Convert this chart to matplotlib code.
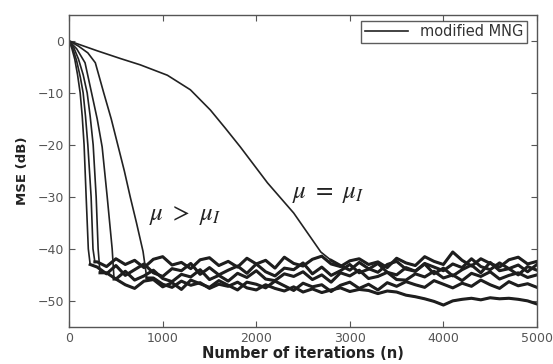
import numpy as np
import matplotlib.pyplot as plt

# transient parts (iteration, MSE in dB)
n_c1 = [0, 30, 60, 90, 118, 140, 160, 182, 205, 225]
db_c1 = [0, -1.5, -3.5, -6.5, -10, -14.5, -20, -30, -40, -43]
n_c2 = [0, 40, 80, 120, 150, 175, 200, 235, 255, 275]
db_c2 = [0, -1.5, -3.8, -7.0, -10, -14.5, -20, -30, -40, -42.5]
n_c3 = [0, 50, 100, 150, 193, 225, 257, 289, 310, 330]
db_c3 = [0, -1.3, -3.5, -6.5, -10, -14.5, -20, -30, -40, -44.6]
n_c4 = [0, 80, 170, 240, 300, 353, 407, 460, 480]
db_c4 = [0, -1.5, -4.2, -10, -15, -20.4, -30, -40, -45.8]
n_c5 = [0, 100, 200, 280, 370, 450, 520, 590, 653, 720, 790, 830]
db_c5 = [0, -1, -2.3, -4.2, -10, -15, -20, -25, -30, -35, -40.5, -45.6]
n_slow = [0, 300, 550, 760, 1050, 1296, 1510, 1670, 1830, 2120, 2400,
          2690, 2800]
db_slow = [0, -1.9, -3.4, -4.6, -6.6, -9.4, -13.3, -16.8, -20.4, -27.3, -33.1,
           -40.6, -42.2]

# steady-state parts, one value every 100 iterations up to n = 5000
fl_c1 = [-43.5, -44.8, -43.2, -45.1, -44.0, -42.9, -44.6, -45.3, -43.8, -44.2,
         -42.8, -44.9, -43.6, -45.0, -44.1, -43.3, -44.7, -42.9, -44.4, -45.2,
         -43.7, -44.0, -42.7, -44.8, -43.5, -45.1, -44.2, -43.0, -44.6, -43.9,
         -42.8, -44.5, -45.0, -43.6, -44.3, -42.9, -44.8, -43.7, -45.2, -44.0,
         -43.1, -44.6, -42.6, -44.2, -43.8, -45.0, -43.4, -44.1]
fl_c2 = [-42.5, -43.4, -41.9, -43.0, -42.2, -43.6, -42.0, -41.5, -43.1, -42.6,
         -43.8, -42.1, -41.7, -43.2, -42.4, -43.5, -41.8, -42.9, -42.2, -43.7,
         -41.6, -42.8, -43.3, -42.0, -41.4, -42.9, -43.4, -42.3, -41.9, -43.0,
         -42.5, -43.6, -41.8, -42.7, -43.2, -41.5, -42.4, -43.0, -40.6, -42.2,
         -43.3, -41.9, -42.8, -43.5, -42.1, -41.6, -42.9, -42.4]
fl_c3 = [-44.6, -45.8, -44.3, -46.0, -45.2, -44.1, -45.7, -46.3, -44.9, -45.4,
         -44.0, -45.9, -45.1, -46.2, -44.7, -45.5, -44.2, -45.8, -46.1, -44.8,
         -45.3, -44.4, -45.9, -45.0, -46.4, -44.6, -45.2, -44.1, -45.7, -45.3,
         -44.5, -45.9, -46.0, -44.8, -45.4, -44.3, -45.6, -45.0, -46.1, -44.7,
         -45.3, -44.4, -45.8, -45.1, -44.6, -45.5, -45.0]
fl_c4 = [-45.8, -46.9, -47.6, -46.2, -45.9, -47.3, -46.5, -47.8, -46.0, -46.7,
         -47.4, -46.1, -47.0, -47.9, -46.4, -46.8, -47.5, -46.2, -47.1, -48.0,
         -46.6, -47.3, -46.9, -48.2, -47.0, -46.4, -47.6, -46.8, -47.9, -46.5,
         -47.2, -46.3, -46.9, -47.4, -46.1, -46.8, -47.5, -46.6, -47.2, -46.0,
         -46.9, -47.6, -46.3, -47.1, -46.7, -47.4]
fl_c5 = [-45.6, -46.8, -47.4, -46.2, -47.0, -46.5, -47.6, -46.8, -47.2, -46.4,
         -47.5, -47.9, -46.9, -47.6, -48.1, -47.3, -48.3, -47.7, -48.4, -47.9,
         -47.5, -48.2, -47.8, -48.0, -48.6, -48.1, -48.3, -48.9, -49.2, -49.6,
         -50.1, -50.8, -50.0, -49.7, -49.5, -49.8, -49.4, -49.6, -49.5, -49.7,
         -50.0, -50.6]
fl_slow = [-43.2, -44.1, -42.6, -43.8, -44.5, -43.0, -42.4, -43.9, -44.3, -42.8,
           -43.5, -44.2, -42.9, -43.6, -41.9, -43.4, -44.0, -42.7, -43.8, -43.1,
           -44.4, -43.0]

curves = [(n_c1, db_c1, fl_c1), (n_c2, db_c2, fl_c2), (n_c3, db_c3, fl_c3),
          (n_c4, db_c4, fl_c4), (n_c5, db_c5, fl_c5), (n_slow, db_slow, fl_slow)]

plt.rcParams['mathtext.fontset'] = 'stix'

fig = plt.figure(figsize=(5.53, 3.64), dpi=100)
ax = fig.add_axes([0.125, 0.102, 0.846, 0.857])

for i, (n_t, db_t, fl) in enumerate(curves):
    n_f = 5000 - 100 * np.arange(len(fl))[::-1]
    n = np.concatenate([n_t, n_f])
    db = np.concatenate([db_t, fl])
    ax.plot(n, db, color='#222222', lw=1.2,
            label='modified MNG' if i == 0 else None)
    # the noisy floor looks heavier in the scan
    ax.plot(n[len(n_t) - 1:], db[len(n_t) - 1:], color='#1e1e1e', lw=2.2,
            solid_joinstyle='round')

ax.set_xlim(0, 5000)
ax.set_ylim(-55, 5)
ax.set_xticks([0, 1000, 2000, 3000, 4000, 5000])
ax.set_yticks([0, -10, -20, -30, -40, -50])
ax.tick_params(direction='in', top=True, right=True, labelsize=9,
               labelcolor='#555555', color='#555555', length=4)
for s in ax.spines.values():
    s.set_color('#555555')
    s.set_linewidth(1.0)

ax.set_xlabel('Number of iterations (n)', fontsize=10.5, fontweight='bold',
              color='#222222', labelpad=1)
ax.set_ylabel('MSE (dB)', fontsize=9.5, fontweight='bold', color='#222222',
              labelpad=6)

ax.text(1240, -33.5, r'$\mu\ >\ \mu_I$', fontsize=18, ha='center',
        va='center', color='#222222')
ax.text(2770, -29.2, r'$\mu\ =\ \mu_I$', fontsize=18, ha='center',
        va='center', color='#222222')

leg = ax.legend(loc='upper right', bbox_to_anchor=(0.979, 0.981),
                borderaxespad=0, fontsize=10.5, fancybox=False,
                handlelength=3.0, borderpad=0.25, labelcolor='#333333')
leg.get_frame().set_edgecolor('#333333')
leg.get_frame().set_linewidth(1.0)
leg.get_lines()[0].set_linewidth(1.2)

fig.savefig('out.png', dpi=100)
